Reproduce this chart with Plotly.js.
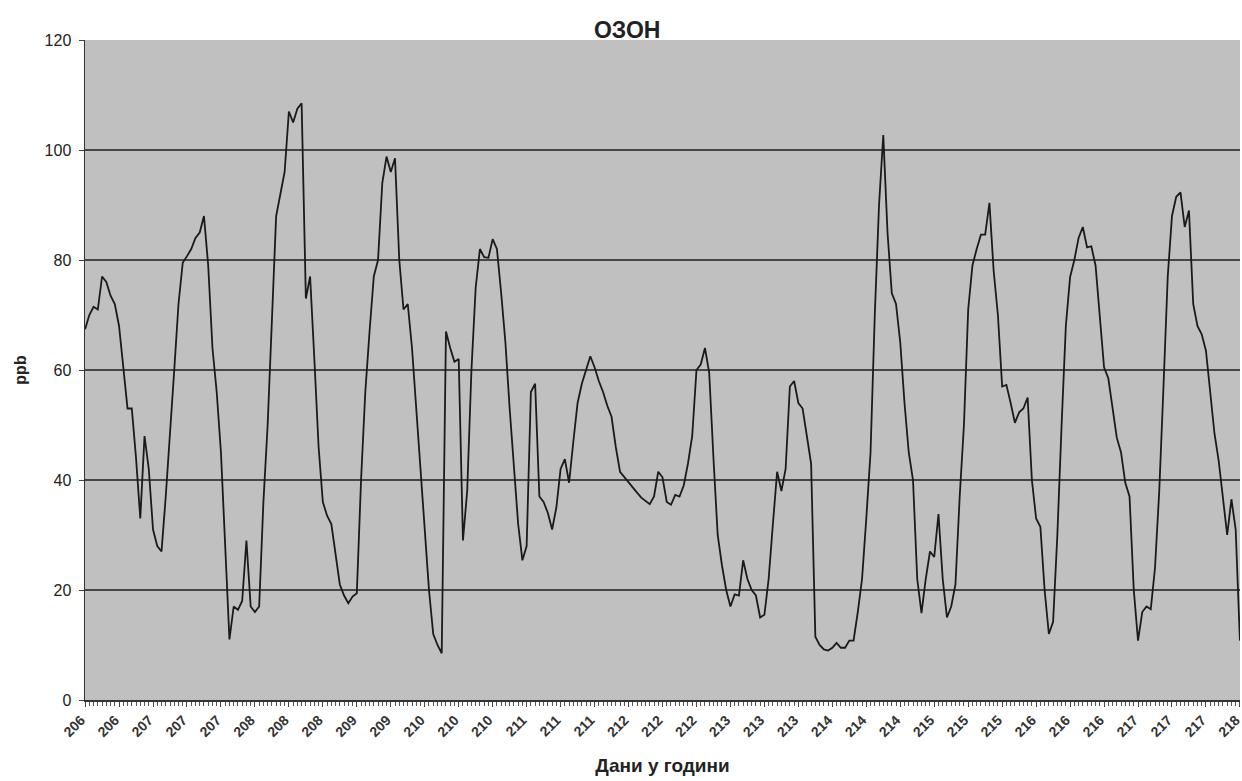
<!DOCTYPE html>
<html>
<head>
<meta charset="utf-8">
<script src="https://cdn.plot.ly/plotly-3.0.1.min.js"></script>
<style>html,body{margin:0;padding:0;background:#fff;}#chart{width:1242px;height:781px;}</style>
</head>
<body>
<div id="chart"></div>
<script>
// Hourly ozone concentration (ppb), days 206–218
var ozonePpb = [
  67.4, 70, 71.5, 71, 77, 76, 73.5, 72, 68, 60,
  53, 53, 44, 33, 48, 42, 31, 28, 27, 37,
  48, 60, 72, 79.5, 80.7, 82, 84, 85, 88, 79,
  64, 56, 45, 27, 11, 17, 16.4, 18, 29, 17,
  16, 17, 36, 50, 68, 88, 92, 96, 107, 105,
  107.5, 108.5, 73, 77, 62, 46, 36, 33.5, 32, 26,
  21, 19, 17.6, 18.8, 19.4, 40, 56, 67, 77, 80,
  94, 98.8, 96, 98.5, 80, 71, 72, 64, 53, 42,
  31, 20, 12, 10, 8.5, 67, 64, 61.5, 62, 29,
  38, 60, 75, 82, 80.5, 80.4, 83.8, 82, 74, 65,
  53, 42, 32, 25.4, 28, 56, 57.5, 37, 36, 34,
  31, 35, 42, 43.8, 39.5, 47, 54, 57.5, 60, 62.5,
  60.5, 58, 56, 53.5, 51.5, 46, 41.5, 40.5, 39.5, 38.5,
  37.7, 36.8, 36.2, 35.6, 37, 41.5, 40.5, 36, 35.5, 37.3,
  37, 39, 43, 48, 60, 61, 64, 59.5, 44, 30,
  24.5, 20, 17, 19.2, 19, 25.4, 22, 20, 19, 15,
  15.5, 22, 32, 41.5, 38, 42, 57, 58, 54, 53,
  48, 43, 11.5, 10, 9.2, 9, 9.5, 10.4, 9.5, 9.5,
  10.8, 10.8, 16, 22, 33, 45, 70, 90, 102.7, 85,
  74, 72, 65, 54, 45, 40, 22, 15.8, 22, 27,
  26, 33.8, 22, 15, 17, 21, 37, 50, 71, 79,
  82, 84.6, 84.6, 90.4, 78, 70, 57, 57.3, 54, 50.4,
  52.3, 53, 55, 40, 33, 31.5, 20, 12, 14.2, 30,
  50, 68, 76.9, 80, 84, 86, 82.3, 82.5, 79, 70,
  60.5, 58.5, 53, 47.7, 45, 39.5, 37, 20, 10.8, 16,
  17, 16.5, 24, 38, 57, 77, 88, 91.5, 92.3, 86,
  89, 72, 68, 66.5, 63.5, 55.5, 48.5, 43.5, 36.5, 30,
  36.5, 31, 10.8
];

// Category-axis labels (every 8th hour)
var dayLabels = [
  '206', '206', '207', '207', '207', '208', '208', '208', '209', '209',
  '210', '210', '210', '211', '211', '211', '212', '212', '212', '213',
  '213', '213', '214', '214', '214', '215', '215', '215', '216', '216',
  '216', '217', '217', '217', '218'
];
var labelStep = 8;

var titleText = 'ОЗОН';
var xTitleText = 'Дани у години';
var yTitleText = 'ppb';

var hours = ozonePpb.map(function (_, i) { return i; });
var tickPositions = dayLabels.map(function (_, i) { return i * labelStep; });
var tickTextBold = dayLabels.map(function (t) { return '<b>' + t + '</b>'; });

var trace = {
  x: hours,
  y: ozonePpb,
  type: 'scatter',
  mode: 'lines',
  line: { color: '#1a1a1a', width: 1.8 },
  hoverinfo: 'x+y'
};

var layout = {
  width: 1242,
  height: 781,
  margin: { l: 85, r: 2, t: 40, b: 81 },
  paper_bgcolor: '#ffffff',
  plot_bgcolor: '#c0c0c0',
  showlegend: false,
  font: { family: 'Liberation Sans, Arial, sans-serif', color: '#222222' },
  title: {
    text: '<b>' + titleText + '</b>',
    font: { size: 23, color: '#222222' },
    xref: 'container', x: 0.505, xanchor: 'center',
    yref: 'container', y: 0.962, yanchor: 'middle'
  },
  xaxis: {
    range: [-0.02, hours.length - 1 + 0.02],
    tickmode: 'array',
    tickvals: tickPositions,
    ticktext: tickTextBold,
    tickangle: -45,
    ticklabelshift: -4,
    ticklabeloverflow: 'allow',
    tickfont: { size: 14, color: '#333333' },
    ticks: 'outside', ticklen: 5, tickcolor: '#444', tickwidth: 1,
    minor: { tickmode: 'linear', tick0: 0, dtick: 1, ticks: 'outside', ticklen: 4, tickcolor: '#555', tickwidth: 1, showgrid: false },
    showgrid: false,
    zeroline: false,
    showline: true, linecolor: '#333', linewidth: 1.5,
    title: { text: '<b>' + xTitleText + '</b>', font: { size: 19, color: '#222222' }, standoff: 20 },
    fixedrange: true
  },
  yaxis: {
    range: [0, 120],
    tickmode: 'linear', tick0: 0, dtick: 20,
    tickfont: { size: 16, color: '#222222' },
    ticks: 'outside', ticklen: 5, tickcolor: '#444',
    ticklabelstandoff: 4,
    showgrid: true, gridcolor: '#464646', gridwidth: 1.2,
    zeroline: false,
    showline: true, linecolor: '#333', linewidth: 1.5,
    title: { text: '<b>' + yTitleText + '</b>', font: { size: 16, color: '#222222' }, standoff: 14 },
    fixedrange: true
  }
};

Plotly.newPlot('chart', [trace], layout, { displayModeBar: false, staticPlot: true });
</script>
</body>
</html>
